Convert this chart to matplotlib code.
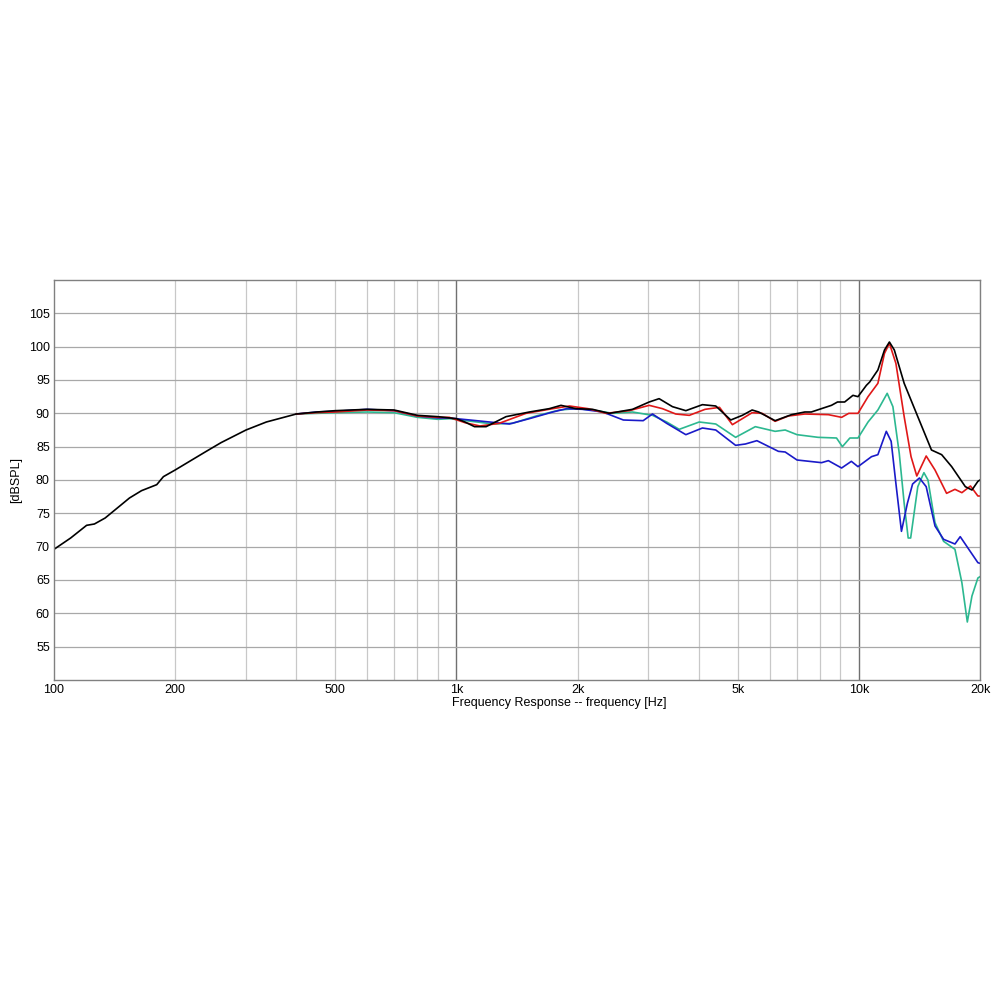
import numpy as np
import matplotlib.pyplot as plt
from matplotlib.ticker import FixedLocator, NullFormatter

plt.rcParams['font.family'] = ['Liberation Sans', 'DejaVu Sans']

# black (reference axis) response
f_black = [100, 110, 120.5, 126, 134, 145, 154, 165, 180, 187, 200, 220, 239, 260, 300, 337, 400, 450,
           500, 600, 700, 800, 900, 1000, 1050, 1109, 1185, 1328, 1518, 1701, 1819, 1982, 2179, 2398,
           2738, 3013, 3189, 3442, 3716, 4086, 4410, 4805, 5134, 5430, 5637, 6193, 6800, 7340, 7618,
           8549, 8850, 9220, 9668, 9950, 10440, 10640, 11150, 11580, 11910, 12250, 12960, 14010,
           15150, 16060, 17010, 18390, 19100, 19760, 20000]
db_black = [69.6, 71.3, 73.2, 73.4, 74.3, 76.0, 77.3, 78.4, 79.3, 80.5, 81.5, 83.0, 84.3, 85.6, 87.5,
            88.7, 89.9, 90.2, 90.4, 90.6, 90.5, 89.7, 89.5, 89.2, 88.7, 88.0, 88.0, 89.5, 90.2, 90.7,
            91.2, 90.7, 90.6, 90.0, 90.6, 91.7, 92.2, 91.0, 90.4, 91.3, 91.1, 89.0, 89.7, 90.5, 90.2,
            88.9, 89.8, 90.2, 90.2, 91.2, 91.7, 91.7, 92.7, 92.5, 94.2, 94.7, 96.5, 99.5, 100.7, 99.5,
            94.5, 89.5, 84.5, 83.8, 82.0, 79.0, 78.5, 79.8, 80.0]

f_red = [400, 450, 500, 600, 700, 800, 900, 960, 1050, 1144, 1277, 1489, 1735, 1910, 2124, 2355,
         2688, 3013, 3250, 3507, 3790, 4148, 4505, 4850, 5134, 5430, 5750, 6193, 6680, 7340, 8400,
         9060, 9440, 9950, 10540, 11150, 11580, 11910, 12360, 12960, 13480, 13930, 14700, 15460,
         16520, 17330, 18030, 18940, 19760, 20000]
db_red = [89.9, 90.1, 90.2, 90.5, 90.4, 89.6, 89.4, 89.4, 88.6, 88.1, 88.5, 90.0, 90.7, 91.1, 90.7,
          90.0, 90.4, 91.2, 90.7, 89.9, 89.7, 90.6, 90.9, 88.3, 89.2, 90.1, 90.0, 88.8, 89.6, 89.9,
          89.8, 89.4, 90.0, 90.0, 92.5, 94.5, 99.0, 100.5, 97.5, 89.5, 83.5, 80.6, 83.6, 81.5, 78.0,
          78.6, 78.1, 79.1, 77.6, 77.6]

f_green = [400, 450, 500, 600, 700, 800, 900, 960, 1125, 1234, 1379, 1577, 1804, 1982, 2179, 2445,
           2738, 3070, 3330, 3578, 4011, 4410, 4940, 5530, 6193, 6560, 7020, 7920, 8800, 9100, 9500,
           9950, 10540, 11150, 11760, 12150, 12600, 12960, 13260, 13450, 14010, 14510, 14850, 15460,
           16240, 17330, 18030, 18600, 19100, 19760, 20000]
db_green = [89.9, 90.0, 90.1, 90.2, 90.1, 89.4, 89.1, 89.2, 88.7, 88.4, 88.5, 89.6, 90.5, 90.7, 90.5,
            90.0, 90.2, 89.7, 88.7, 87.6, 88.7, 88.4, 86.4, 88.0, 87.3, 87.5, 86.8, 86.4, 86.3, 85.0,
            86.3, 86.3, 88.7, 90.5, 93.0, 91.0, 84.0, 76.5, 71.3, 71.3, 79.0, 81.1, 80.0, 73.6, 70.8,
            69.6, 64.6, 58.7, 62.6, 65.3, 65.5]

f_blue = [400, 450, 500, 600, 700, 800, 900, 960, 1080, 1208, 1354, 1518, 1735, 1880, 2056, 2309,
          2599, 2911, 3070, 3330, 3716, 4086, 4410, 4940, 5225, 5580, 6310, 6560, 7020, 8080, 8400,
          9060, 9580, 9950, 10750, 11150, 11700, 12030, 12360, 12760, 13200, 13600, 14140, 14700,
          15460, 16240, 17330, 17860, 18760, 19760, 20000]
db_blue = [89.9, 90.2, 90.3, 90.6, 90.4, 89.6, 89.3, 89.3, 89.0, 88.7, 88.4, 89.2, 90.2, 90.7, 90.6,
           90.2, 89.0, 88.9, 89.9, 88.5, 86.8, 87.8, 87.5, 85.2, 85.4, 85.9, 84.3, 84.2, 83.0, 82.6,
           82.9, 81.8, 82.8, 82.0, 83.5, 83.8, 87.3, 85.8, 79.5, 72.3, 76.5, 79.4, 80.3, 79.0, 73.1,
           71.1, 70.4, 71.5, 69.6, 67.6, 67.5]

xtick_vals = [100, 200, 500, 1000, 2000, 5000, 10000, 20000]
xtick_labels = ['100', '200', '500', '1k', '2k', '5k', '10k', '20k']
ytick_vals = [55, 60, 65, 70, 75, 80, 85, 90, 95, 100, 105]

fig = plt.figure(figsize=(10, 10), dpi=100)
ax = fig.add_axes([0.054, 0.32, 0.926, 0.40])

ax.set_xscale('log')
ax.set_xlim(100, 20000)
ax.set_ylim(50, 110)

# grid
minor = [m * d for d in (100, 1000) for m in range(2, 10)] + [20000]
for v in minor:
    ax.axvline(v, color='#c8c8c8', lw=0.9, zorder=0)
for v in (1000, 10000):
    ax.axvline(v, color='#707070', lw=1.0, zorder=0)
for v in ytick_vals:
    ax.axhline(v, color='#a8a8a8', lw=0.9, zorder=0)

ax.plot(f_green, db_green, color='#2cb890', lw=1.2)
ax.plot(f_blue, db_blue, color='#1a1ac8', lw=1.2)
ax.plot(f_red, db_red, color='#e01818', lw=1.2)
ax.plot(f_black, db_black, color='#000000', lw=1.2)

ax.xaxis.set_major_locator(FixedLocator(xtick_vals))
ax.set_xticklabels(xtick_labels)
ax.xaxis.set_minor_formatter(NullFormatter())
ax.tick_params(which='both', length=0, labelsize=9, pad=3)
ax.set_yticks(ytick_vals)
for s in ax.spines.values():
    s.set_color('#808080')
    s.set_linewidth(1.0)

ax.set_ylabel('[dBSPL]', fontsize=9)
ax.yaxis.set_label_coords(-0.034, 0.5)
fig.text(0.559, 0.297, 'Frequency Response -- frequency [Hz]', ha='center', va='center', fontsize=9)

fig.savefig('out.png', dpi=100, facecolor='white')
